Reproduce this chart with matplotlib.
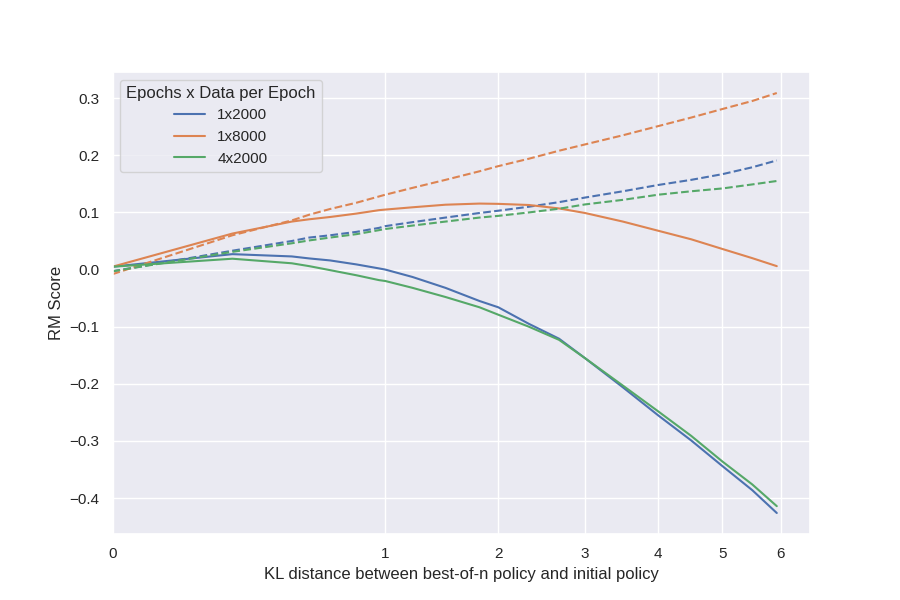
import numpy as np
import matplotlib
matplotlib.use("Agg")
import matplotlib.pyplot as plt
import seaborn as sns

# KL distance values
kl = [0.0, 0.193, 0.432, 0.52, 0.636, 0.8, 0.955, 1.0, 1.21, 1.49, 1.81, 2.0,
      2.33, 2.68, 3.0, 3.5, 4.0, 4.5, 5.0, 5.5, 5.93]

# solid lines (gold RM score)
gold_1x2000 = [0.005, 0.027, 0.023, 0.0195, 0.016, 0.009, 0.002, 0.0, -0.013,
               -0.032, -0.055, -0.066, -0.095, -0.121, -0.155, -0.206, -0.255,
               -0.299, -0.344, -0.386, -0.426]
gold_1x8000 = [0.005, 0.063, 0.084, 0.088, 0.092, 0.098, 0.104, 0.105, 0.109,
               0.1135, 0.1155, 0.115, 0.113, 0.107, 0.099, 0.084, 0.068, 0.053,
               0.036, 0.020, 0.006]
gold_4x2000 = [0.005, 0.019, 0.011, 0.006, -0.001, -0.010, -0.0185, -0.020,
               -0.032, -0.048, -0.066, -0.079, -0.100, -0.123, -0.155, -0.203,
               -0.248, -0.291, -0.336, -0.376, -0.414]

# dashed lines (proxy RM score)
proxy_1x2000 = [-0.003, 0.033, 0.050, 0.056, 0.060, 0.066, 0.073, 0.076, 0.083,
                0.091, 0.099, 0.103, 0.110, 0.118, 0.126, 0.137, 0.148, 0.157,
                0.167, 0.179, 0.191]
proxy_1x8000 = [-0.008, 0.060, 0.086, 0.096, 0.106, 0.117, 0.128, 0.131, 0.143,
                0.157, 0.172, 0.181, 0.194, 0.208, 0.219, 0.235, 0.251, 0.266,
                0.281, 0.295, 0.309]
proxy_4x2000 = [-0.003, 0.031, 0.046, 0.051, 0.056, 0.062, 0.069, 0.071, 0.077,
                0.084, 0.091, 0.094, 0.100, 0.1065, 0.114, 0.122, 0.131, 0.137,
                0.142, 0.149, 0.155]

labels = ["1x2000", "1x8000", "4x2000"]
gold = [gold_1x2000, gold_1x8000, gold_4x2000]
proxy = [proxy_1x2000, proxy_1x8000, proxy_4x2000]

sns.set_theme()
plt.rcParams["font.family"] = ["Liberation Sans", "DejaVu Sans"]
colors = sns.color_palette("deep")

fig, ax = plt.subplots(figsize=(9, 6), dpi=100)

for i, label in enumerate(labels):
    ax.plot(kl, gold[i], color=colors[i], label=label)
    ax.plot(kl, proxy[i], color=colors[i], linestyle="--")

# x axis is on a square-root scale
ax.set_xscale("function", functions=(lambda x: np.sqrt(np.clip(x, 0, None)), np.square))
ax.set_xlim(left=0)
ax.set_xticks(range(7))
ax.set_xticklabels([str(t) for t in range(7)])

ax.set_xlabel("KL distance between best-of-n policy and initial policy")
ax.set_ylabel("RM Score")
ax.legend(title="Epochs x Data per Epoch", loc="upper left")

plt.savefig("out.png", dpi=100)
